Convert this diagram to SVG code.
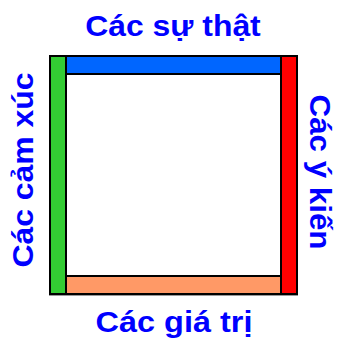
<svg xmlns="http://www.w3.org/2000/svg" width="340" height="339" viewBox="0 0 340 339">
<style>
.t{font-family:"Liberation Sans",Arial,sans-serif;font-weight:bold;font-size:29px;fill:#0000FF;text-anchor:middle}
.b{stroke:#000;stroke-width:2}
</style>
<rect x="0" y="0" width="340" height="339" fill="#fff"/>
<g id="frame">
<rect x="49.5" y="55.5" width="248" height="240" fill="none" stroke="#999" stroke-width="1"/>
</g>
<g id="top">
<rect x="66" y="56" width="215" height="18" fill="#0066FF" class="b"/>
<text class="t" transform="translate(173,35.5) scale(1.1,1)">Các sự thật</text>
</g>
<g id="bottom">
<rect x="66" y="276" width="215" height="18" fill="#FF9966" class="b"/>
<text class="t" transform="translate(174,332) scale(1.12,1)">Các giá trị</text>
</g>
<g id="left">
<rect x="50" y="56" width="16" height="238" fill="#33CC33" class="b"/>
<text class="t" transform="translate(33,170) rotate(-90) scale(1.1,1)">Các cảm xúc</text>
</g>
<g id="right">
<rect x="281" y="56" width="16" height="238" fill="#FF0000" class="b"/>
<text class="t" transform="translate(310,172) rotate(90) scale(1.08,1)">Các ý kiến</text>
</g>
</svg>
